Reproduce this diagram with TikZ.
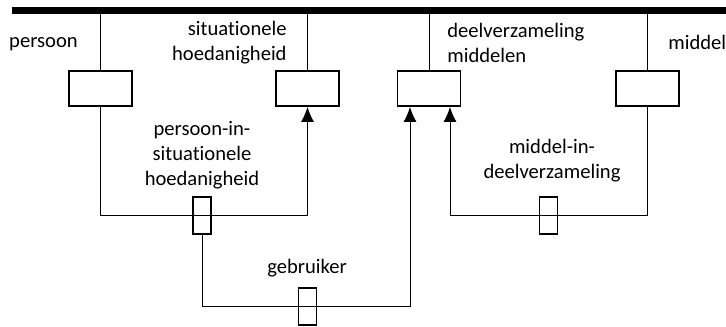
\documentclass[tikz,border=0pt]{standalone}
\usepackage{fontspec}
\setmainfont{Carlito}[Ligatures={NoCommon}]
\usetikzlibrary{arrows.meta,positioning}

\begin{document}
\begin{tikzpicture}[x=0.5pt,y=-0.5pt,>={Latex[length=7.5pt,width=6.5pt]},font=\fontsize{10.3}{12.5}\selectfont]
	\tikzstyle{block} = [draw, line width=0.9pt, rectangle, minimum height=17.5pt, minimum width=31.5pt, inner sep=0pt]
	\tikzstyle{tag} = [draw, line width=0.9pt, rectangle, minimum height=18.5pt, minimum width=9pt, inner sep=0pt]
	\tikzstyle{line} = [line width=0.5pt]
	\tikzstyle{txt} = [inner sep=0pt]

	\useasboundingbox (0,0) rectangle (726,326);

	\node [coordinate] (barL) at (12,10.5) {};
	\node [coordinate] (barR) at (726,10.5) {};

	\node [block] (persoon) at (100.5,88.5) {};
	\node [block] (situatie) at (307.5,88.5) {};
	\node [block] (deel) at (429,88.5) {};
	\node [block] (middel) at (647.5,88.5) {};

	\node [coordinate] (inL) at ([xshift=-9.5pt]deel.south) {};
	\node [coordinate] (inR) at ([xshift=10.5pt]deel.south) {};

	\node [tag] (psi) at (202,215.5) {};
	\node [tag] (mid) at (548.5,215.5) {};
	\node [tag] (geb) at (307.5,306.5) {};

	\node [txt] (lpersoon) at (43.5,44) {persoon};
	\node [txt, align=right, anchor=east] (lsituatie) at (287,43) {situationele\\hoedanigheid};
	\node [txt, align=left, anchor=west] (ldeel) at (447,43) {deelverzameling\\middelen};
	\node [txt, anchor=west] (lmiddel) at (668,42) {middel};
	\node [txt, align=center] (lpsi) at (202,155) {persoon-in-\\situationele\\hoedanigheid};
	\node [txt, align=center] (lmid) at (552,161) {middel-in-\\deelverzameling};
	\node [txt] (lgeb) at (307,268) {gebruiker};

	\draw [line width=3.4pt] (barL) -- (barR);
	\draw [line] (persoon.north) -- (persoon.north |- barL);
	\draw [line] (situatie.north) -- (situatie.north |- barL);
	\draw [line] (deel.north) -- (deel.north |- barL);
	\draw [line] (middel.north) -- (middel.north |- barL);

	\draw [line, ->] (persoon.south) |- (psi.center) -| (situatie.south);
	\draw [line, ->] (psi.south) |- (geb.center) -| (inL);
	\draw [line, ->] (middel.south) |- (mid.center) -| (inR);
\end{tikzpicture}
\end{document}
